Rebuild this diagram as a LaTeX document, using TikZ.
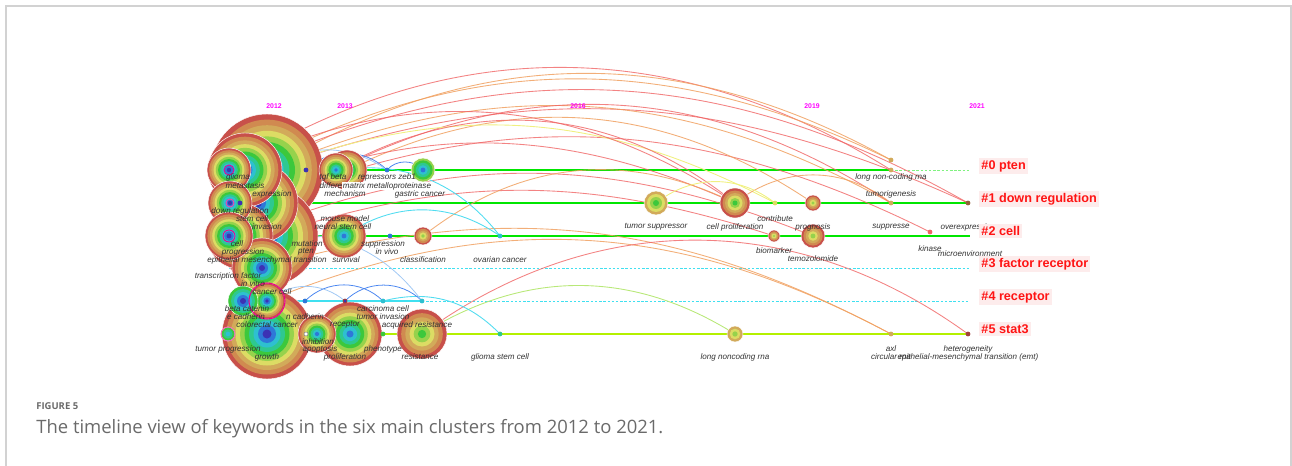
\documentclass[tikz,border=0pt]{standalone}
\usepackage{fontspec}
\setmainfont{Liberation Sans}
\newfontfamily\capfont{Open Sans}
\usetikzlibrary{positioning}

% ring colours, oldest (2012) to newest (2021)
\definecolor{yr0}{HTML}{3C32B4}
\definecolor{yr1}{HTML}{2E78D8}
\definecolor{yr2}{HTML}{2EC0D0}
\definecolor{yr3}{HTML}{2EC890}
\definecolor{yr4}{HTML}{3CC83C}
\definecolor{yr5}{HTML}{96D24C}
\definecolor{yr6}{HTML}{DCDC64}
\definecolor{yr7}{HTML}{D2AA5A}
\definecolor{yr8}{HTML}{D08A50}
\definecolor{yr9}{HTML}{C8504A}
\definecolor{cRowGreen}{HTML}{00E600}
\definecolor{cRowLime}{HTML}{B4F000}
\definecolor{cRowCyan}{HTML}{40E0F0}
\definecolor{cArcRed}{HTML}{F06464}
\definecolor{cArcOrange}{HTML}{F0A060}
\definecolor{cArcYellow}{HTML}{F0F080}
\definecolor{cArcGreen}{HTML}{B8E878}
\definecolor{cArcCyan}{HTML}{50DCF0}
\definecolor{cArcBlue}{HTML}{4A86F0}
\definecolor{cArcLBlue}{HTML}{A0C8F4}
\definecolor{cYear}{HTML}{FF00FF}
\definecolor{cClRed}{HTML}{FF1414}
\definecolor{cClPink}{HTML}{FDECEC}
\definecolor{cFrame}{HTML}{D2D2D2}
\definecolor{cCap}{HTML}{6A6A6A}

% keyword node drawn as citation rings
\newcommand{\kwring}[5]{%
  \coordinate (#1) at (#2);
  \foreach \i in {#5,...,#4}{
    \pgfmathsetmacro\rr{#3*(\i-#4+1)/(#5-#4+1)}
    \fill[fill=yr\i] (#1) circle[radius=\rr];
  }
  \draw[white, line width=0.25pt] (#1) circle[radius=#3];
}
% small keyword node
\newcommand{\kwdot}[3]{%
  \coordinate (#1) at (#2);
  \fill[fill=#3] (#1) circle[radius=2.4];
}

\begin{document}
\begin{tikzpicture}[x=0.02cm, y=-0.02cm,
  kwlabel/.style={font=\fontsize{4.6}{5}\selectfont\itshape, text=black!80, inner sep=0.3pt},
  yearlab/.style={font=\fontsize{3.9}{4}\selectfont\bfseries, text=cYear},
  cluster/.style={anchor=west, font=\fontsize{7.2}{8}\selectfont\bfseries, text=cClRed, fill=cClPink, inner sep=1.2pt},
  rowline/.style={line width=1.1pt, draw=cRowGreen},
  rowdash/.style={line width=0.45pt, dash pattern=on 1.4pt off 1pt},
  arcR/.style={draw=cArcRed, line width=0.5pt, opacity=0.8},
  arcO/.style={draw=cArcOrange, line width=0.5pt, opacity=0.85},
  arcY/.style={draw=cArcYellow, line width=0.5pt},
  arcG/.style={draw=cArcGreen, line width=0.5pt},
  arcC/.style={draw=cArcCyan, line width=0.5pt},
  arcB/.style={draw=cArcBlue, line width=0.45pt},
  arcLB/.style={draw=cArcLBlue, line width=0.45pt},
  captext/.style={anchor=west, text=cCap, inner sep=0pt}]
  \useasboundingbox (0,0) rectangle (1292,466);

  % page frame
  \draw[cFrame, line width=1pt] (6,466) -- (6,6) -- (1291,6) -- (1291,466);

  % row end points
  \coordinate (r0s) at (229,170); \coordinate (r0e) at (970,170);
  \coordinate (r1s) at (229,203);
  \coordinate (r2s) at (229,236); \coordinate (r2e) at (970,236);
  \coordinate (r3s) at (229,268); \coordinate (r3e) at (970,268);
  \coordinate (r4s) at (229,301); \coordinate (r4e) at (970,301);
  \coordinate (r5s) at (229,334);

  % small keyword nodes (positions only, drawn later)
  \coordinate (d0a) at (306,170);  \coordinate (zeb) at (387,170);
  \coordinate (lnc0) at (891,170); \coordinate (lnc0b) at (891,160);
  \coordinate (contrib) at (775,203); \coordinate (tumorig) at (891,203);
  \coordinate (overex) at (968,203);
  \coordinate (supp) at (390,236); \coordinate (ovar) at (500,236);
  \coordinate (kinase) at (930,232);
  \coordinate (d4a) at (305,301); \coordinate (carc) at (345,301);
  \coordinate (d4c) at (383,301); \coordinate (d4d) at (422,301);
  \coordinate (inhdot) at (306,334); \coordinate (d5c) at (383,334);
  \coordinate (gstem) at (500,334); \coordinate (axl) at (891,334);
  \coordinate (heter) at (968,334);
  % big keyword centres
  \coordinate (expr) at (267,170); \coordinate (meta) at (245,170);
  \coordinate (glioma) at (229,170); \coordinate (diff) at (347,170);
  \coordinate (tgf) at (336,170); \coordinate (gastric) at (423,170);
  \coordinate (inva) at (258,203); \coordinate (downreg) at (230,203);
  \coordinate (tsupp) at (656,203); \coordinate (cprolif) at (735,203);
  \coordinate (progn) at (813,203);
  \coordinate (emt) at (268,236); \coordinate (prog) at (240,236);
  \coordinate (cell) at (229,236); \coordinate (survival) at (344,236);
  \coordinate (classif) at (423,236); \coordinate (biomark) at (774,236);
  \coordinate (temoz) at (813,236);
  \coordinate (tfac) at (262,268);
  \coordinate (cancercell) at (267,301); \coordinate (betacat) at (243,301);
  \coordinate (growth) at (267,334); \coordinate (tprog) at (228,334);
  \coordinate (recep) at (350,334); \coordinate (inhib) at (317,334);
  \coordinate (resist) at (422,334); \coordinate (lnc5) at (735,334);

  % timeline rows
  \draw[rowline] (r0s) -- (lnc0);
  \draw[rowdash, draw=cRowGreen!50] (lnc0) -- (r0e);
  \draw[rowline] (r1s) -- (overex);
  \draw[rowline] (r2s) -- (r2e);
  \draw[rowdash, draw=cRowCyan] (r3s) -- (r3e);
  \draw[line width=1.1pt, draw=cRowCyan] (r4s) -- (d4d);
  \draw[rowdash, draw=cRowCyan] (d4d) -- (r4e);
  \draw[rowline, draw=cRowLime] (r5s) -- (heter);

  % co-occurrence arcs
  \draw[arcR] (glioma) to[bend left=32] (lnc0);
  \draw[arcO] (expr) to[bend left=30] (lnc0b);
  \draw[arcO] (meta) to[bend left=27] (lnc0b);
  \draw[arcR] (meta) to[bend left=27] (overex);
  \draw[arcR] (expr) to[bend left=22] (overex);
  \draw[arcO] (expr) to[bend left=26] (tumorig);
  \draw[arcR] (tgf) to[bend left=30] (tumorig);
  \draw[arcR] (inva) to[bend left=24] (kinase);
  \draw[arcO] (diff) to[bend left=30] (progn);
  \draw[arcY] (expr) to[bend left=24] (contrib);
  \draw[arcR] (glioma) to[bend left=30] (cprolif);
  \draw[arcR] (downreg) to[bend left=24] (cprolif);
  \draw[arcR] (tgf) to[bend left=34] (cprolif);
  \draw[arcR] (prog) to[bend left=22] (temoz);
  \draw[arcR] (emt) to[bend left=18] (biomark);
  \draw[arcO] (tfac) to[bend left=22] (axl);
  \draw[arcO] (cancercell) to[bend left=25] (axl);
  \draw[arcR] (resist) to[bend left=36] (heter);
  \draw[arcG] (resist) to[bend left=32] (lnc5);
  \draw[arcO] (classif) to[bend left=32] (cprolif);
  \draw[arcO] (cprolif) to[bend left=38] (tumorig);
  \draw[arcY] (tsupp) to[bend left=38] (contrib);
  \draw[arcC] (tgf) to[bend left=30] (ovar);
  \draw[arcC] (survival) to[bend left=35] (ovar);
  \draw[arcC] (d4c) to[bend left=30] (gstem);
  \draw[arcB] (d0a) to[bend left=45] (zeb);
  \draw[arcB] (zeb) to[bend left=50] (gastric);
  \draw[arcB] (d4a) to[bend left=45] (d4c);
  \draw[arcB] (carc) to[bend left=45] (d4d);
  \draw[arcLB] (cancercell) to[bend left=40] (carc);
  \draw[arcLB] (tfac) to[bend left=25] (survival);
  \draw[arcLB] (expr) to[bend left=35] (zeb);
  \draw[arcLB] (emt) to[bend left=30] (d4d);

  % keyword rings, back to front
  \kwring{expr}{267,170}{56}{0}{9}
  \kwring{emt}{268,236}{50}{0}{9}
  \kwring{growth}{267,334}{45}{0}{9}
  \kwring{inva}{258,203}{40}{0}{9}
  \kwring{meta}{245,170}{37}{0}{9}
  \kwring{prog}{240,236}{33}{0}{9}
  \kwring{tfac}{262,268}{30}{0}{9}
  \kwring{glioma}{229,170}{22}{0}{9}
  \kwring{downreg}{230,203}{22}{0}{9}
  \kwring{cell}{229,236}{24}{0}{9}
  \kwring{cancercell}{267,301}{18}{0}{9}
  \kwring{betacat}{243,301}{15}{0}{4}
  \kwring{tprog}{228,334}{7}{2}{4}
  \kwring{diff}{347,170}{20}{1}{9}
  \kwring{tgf}{336,170}{17}{1}{9}
  \kwring{gastric}{423,170}{12}{1}{5}
  \kwring{survival}{344,236}{22}{1}{9}
  \kwring{recep}{350,334}{32}{1}{9}
  \kwring{inhib}{317,334}{19}{1}{9}
  \kwring{resist}{422,334}{25}{4}{9}
  \kwring{classif}{423,236}{9}{5}{9}
  \kwring{tsupp}{656,203}{12}{4}{7}
  \kwring{cprolif}{735,203}{15}{4}{9}
  \kwring{progn}{813,203}{8}{5}{9}
  \kwring{biomark}{774,236}{6}{5}{9}
  \kwring{temoz}{813,236}{12}{5}{9}
  \kwring{lnc5}{735,334}{8}{5}{7}
  \draw[magenta, line width=0.5pt] (glioma) circle[radius=5];
  \draw[magenta, line width=0.5pt] (cell) circle[radius=6];
  \draw[magenta!70, line width=0.5pt] (downreg) circle[radius=4];
  \draw[magenta, line width=0.6pt] (cancercell) circle[radius=18];
  \draw[magenta!60, line width=0.5pt] (tprog) circle[radius=7];

  % small keyword dots
  \kwdot{d0a}{306,170}{yr0}
  \kwdot{zeb}{387,170}{yr1}
  \kwdot{lnc0}{891,170}{yr7}
  \kwdot{lnc0b}{891,160}{yr7}
  \kwdot{contrib}{775,203}{yr6}
  \kwdot{tumorig}{891,203}{yr7}
  \kwdot{overex}{968,203}{yr8!70!black}
  \kwdot{supp}{390,236}{yr1}
  \kwdot{ovar}{500,236}{yr2}
  \kwdot{kinase}{930,232}{cArcRed}
  \kwdot{d4a}{305,301}{yr1}
  \kwdot{carc}{345,301}{yr9!80!black}
  \kwdot{d4c}{383,301}{yr2}
  \kwdot{d4d}{422,301}{yr2}
  \kwdot{d5c}{383,334}{yr4}
  \kwdot{gstem}{500,334}{yr3}
  \kwdot{axl}{891,334}{yr7}
  \kwdot{heter}{968,334}{yr9!80!black}
  \fill[yr0] (carc) circle[radius=1.5];
  \fill[yr0] (240,203) circle[radius=2.4];
  \filldraw[fill=white, draw=gray, line width=0.3pt] (inhdot) circle[radius=2];

  % years
  \node[yearlab] (y2012) at (274,106) {2012};
  \node[yearlab] (y2013) at (345,106) {2013};
  \node[yearlab] (y2016) at (578,106) {2016};
  \node[yearlab] (y2019) at (812,106) {2019};
  \node[yearlab] (y2021) at (977,106) {2021};

  % keyword labels, row #0
  \node[kwlabel] (lglioma) at (238,177) {glioma};
  \node[kwlabel] (lmeta) at (245,186) {metastasis};
  \node[kwlabel] (lexpr) at (272,194) {expression};
  \node[kwlabel] (ltgf) at (333,177) {tgf beta};
  \node[kwlabel] (ldiff) at (344,186) {differentiation};
  \node[kwlabel, fill=white] (lmmp) at (387,186) {matrix metalloproteinase};
  \node[kwlabel] (lzeb) at (387,177) {repressors zeb1};
  \node[kwlabel] (lmech) at (345,194) {mechanism};
  \node[kwlabel] (lgastric) at (420,194) {gastric cancer};
  \node[kwlabel] (llnc0) at (891,177) {long non-coding rna};
  % row #1
  \node[kwlabel] (ldownreg) at (240,211) {down regulation};
  \node[kwlabel] (lstem) at (252,219) {stem cell};
  \node[kwlabel] (linva) at (267,227) {invasion};
  \node[kwlabel] (lmouse) at (345,219) {mouse model};
  \node[kwlabel] (lneural) at (343,227) {neural stem cell};
  \node[kwlabel] (ltsupp) at (656,227) {tumor suppressor};
  \node[kwlabel] (lcprolif) at (735,227) {cell proliferation};
  \node[kwlabel] (lcontrib) at (775,219) {contribute};
  \node[kwlabel] (lprogn) at (813,227) {prognosis};
  \node[kwlabel] (ltumorig) at (891,194) {tumorigenesis};
  \node[kwlabel] (lsupp2) at (891,227) {suppresse};
  \node[kwlabel] (loverex) at (968,227) {overexpression};
  % row #2
  \node[kwlabel] (lcell) at (237,244) {cell};
  \node[kwlabel] (lprog) at (243,252) {progression};
  \node[kwlabel] (lemt) at (267,260) {epithelial mesenchymal transition};
  \node[kwlabel] (lmut) at (307,244) {mutation};
  \node[kwlabel] (lpten) at (306,252) {pten};
  \node[kwlabel] (lsurv) at (346,260) {survival};
  \node[kwlabel] (lsupp) at (383,244) {suppression};
  \node[kwlabel] (lvivo) at (387,252) {in vivo};
  \node[kwlabel] (lclassif) at (423,260) {classification};
  \node[kwlabel] (lovar) at (500,260) {ovarian cancer};
  \node[kwlabel] (lbiomark) at (774,251) {biomarker};
  \node[kwlabel] (ltemoz) at (813,259) {temozolomide};
  \node[kwlabel] (lkinase) at (930,249) {kinase};
  \node[kwlabel] (lmicro) at (970,254) {microenvironment};
  % row #3
  \node[kwlabel] (ltfac) at (228,276) {transcription factor};
  \node[kwlabel] (lvitro) at (253,284) {in vitro};
  \node[kwlabel] (lcancer) at (272,292) {cancer cell};
  % row #4
  \node[kwlabel] (lbetacat) at (247,309) {beta catenin};
  \node[kwlabel] (lecad) at (246,317) {e cadherin};
  \node[kwlabel] (lcrc) at (267,325) {colorectal cancer};
  \node[kwlabel] (lncad) at (305,317) {n cadherin};
  \node[kwlabel] (lcarc) at (383,309) {carcinoma cell};
  \node[kwlabel] (ltinv) at (383,317) {tumor invasion};
  \node[kwlabel] (lrecep) at (345,325) {receptor};
  \node[kwlabel] (lacq) at (417,325) {acquired resistance};
  % row #5
  \node[kwlabel] (ltprog) at (228,349) {tumor progression};
  \node[kwlabel] (linhib) at (318,342) {inhibition};
  \node[kwlabel] (lapop) at (320,349) {apoptosis};
  \node[kwlabel] (lpheno) at (383,349) {phenotype};
  \node[kwlabel] (lgrowth) at (267,357) {growth};
  \node[kwlabel] (lprolif) at (345,357) {proliferation};
  \node[kwlabel] (lresist) at (420,357) {resistance};
  \node[kwlabel] (lgstem) at (500,357) {glioma stem cell};
  \node[kwlabel] (llnc5) at (735,357) {long noncoding rna};
  \node[kwlabel] (laxl) at (891,349) {axl};
  \node[kwlabel] (lemt2) at (968,357) {epithelial-mesenchymal transition (emt)};
  \node[kwlabel] (lcirc) at (891,357) {circular rna};
  \node[kwlabel] (lheter) at (968,349) {heterogeneity};

  % cluster names
  \node[cluster] (c0) at (979,166) {\#0 pten};
  \node[cluster] (c1) at (979,199) {\#1 down regulation};
  \node[cluster] (c2) at (979,231) {\#2 cell};
  \node[cluster] (c3) at (979,264) {\#3 factor receptor};
  \node[cluster] (c4) at (979,297) {\#4 receptor};
  \node[cluster] (c5) at (979,329) {\#5 stat3};

  % caption
  \node[captext, font=\capfont\bfseries\fontsize{5.4}{7}\selectfont] (figno) at (36,406) {FIGURE 5};
  \node[captext, font=\capfont\fontsize{10.5}{12}\selectfont] (caption) at (36,429) {The timeline view of keywords in the six main clusters from 2012 to 2021.};
\end{tikzpicture}
\end{document}
